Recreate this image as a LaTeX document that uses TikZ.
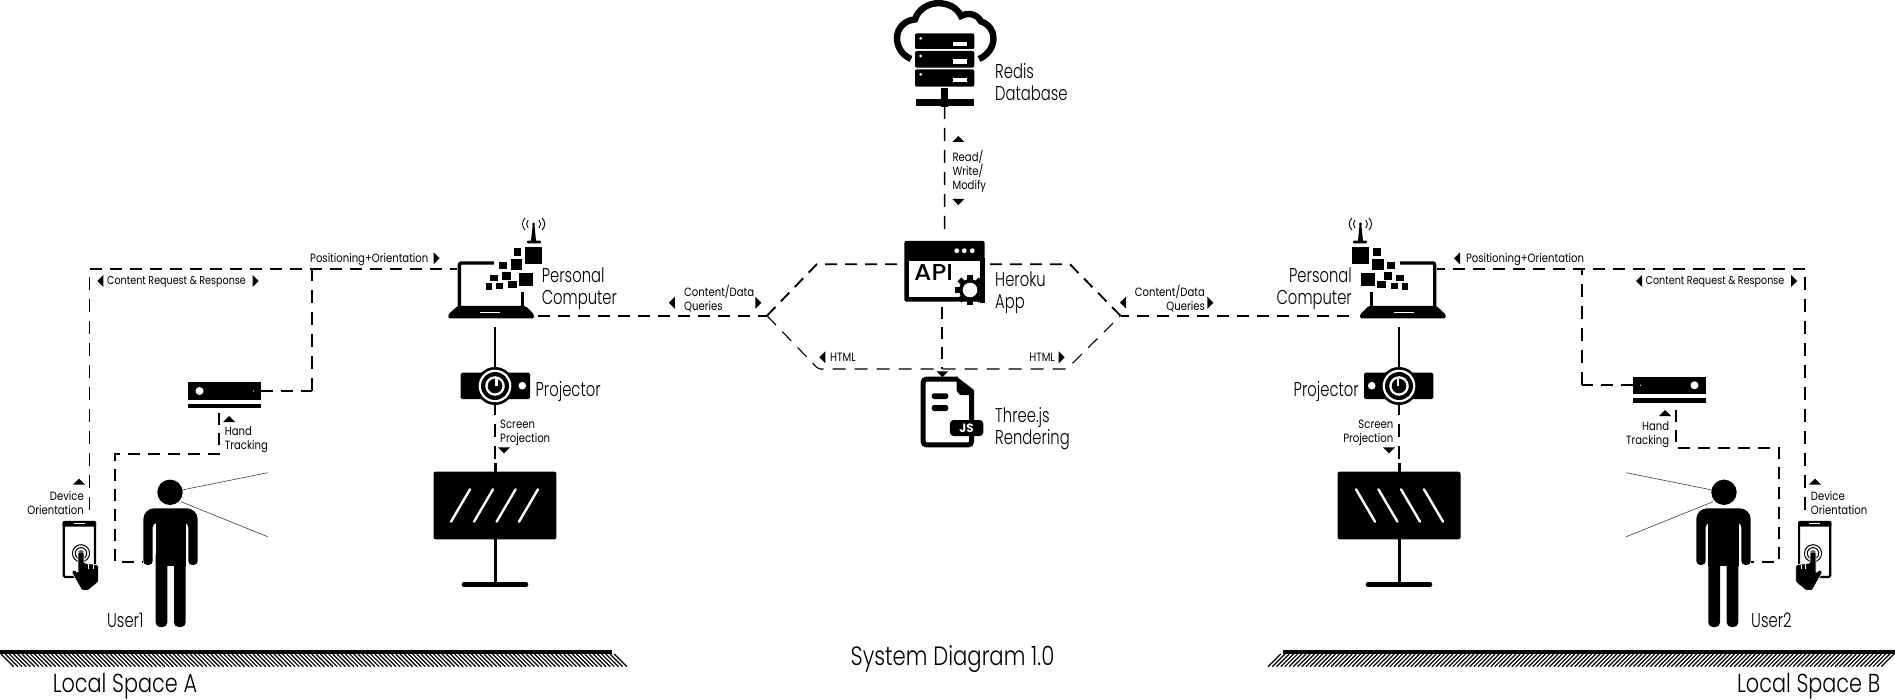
\documentclass[tikz,border=0pt]{standalone}
\usepackage{fontspec}
\setmainfont{Poppins Light}[FakeStretch=0.74]
\newfontfamily\smallfont{Poppins}[FakeStretch=0.84]
\newfontfamily\spacefont{Poppins Light}[FakeStretch=0.8]
\newfontfamily\apifont{Poppins Medium}[FakeStretch=1.08]
\usetikzlibrary{shapes.geometric}

% Icons are drawn at their place on the left, the right copies are mirrored
\tikzset{
    laptop/.pic={
        \draw[line width=3.4pt, rounded corners=2pt] (494,263) -- (459.3,263) -- (459.3,308);
        \draw[line width=3.4pt] (522.7,291.7) -- (522.7,308);
        \fill[rounded corners=1.5pt] (457.5,306) -- (448.3,314.5) -- (448.3,318.5) -- (534,318.5) -- (534,314.5) -- (525.5,306) -- cycle;
        \fill[white] (480,311.7) rectangle (500,313.3);
        \foreach \xa/\ya/\xb/\yb in {525.3/246.7/541.7/264, 513.5/248.3/521/256, 510.5/259/522/270, 498.7/262.3/507.2/269, 502/271.7/510.5/280, 519/272.7/532.8/286, 490.3/275/498/281, 508.4/281/516.8/288.3, 495.8/282.7/503/289.3, 486/283.3/492.4/290}
            \fill (\xa,\ya) rectangle (\xb,\yb);
        % antenna
        \fill (532.8,224) -- (534.4,224) -- (536,241) -- (531,241) -- cycle;
        \fill[rounded corners=1pt] (527,240.7) rectangle (541,243.3);
        \fill (533.6,224) circle (1.6);
        \foreach \sx in {-1,1} {
            \draw[line width=0.9pt] (533.6+\sx*8.5,218) .. controls (533.6+\sx*12,222) and (533.6+\sx*12,226) .. (533.6+\sx*8.5,230);
            \draw[line width=0.9pt] (533.6+\sx*5.5,220) .. controls (533.6+\sx*7.5,222.5) and (533.6+\sx*7.5,225.5) .. (533.6+\sx*5.5,228);
        }
    },
    projector/.pic={
        \fill[rounded corners=1.5pt] (460.7,372.7) rectangle (530,399);
        \fill (495,386) circle (19);
        \fill[white] (495,386) circle (16.3);
        \fill (495,386) circle (14);
        \fill[white] (495,386) circle (9.8);
        \fill (495,386) circle (7.3);
        \fill[white] (495,386) -- (495,379) -- (497.5,379) -- (497.5,386) -- cycle;
        \fill[white] (522.3,385.7) circle (3.8);
    },
    wallscreen/.pic={
        \fill[rounded corners=2pt] (433.5,471.7) rectangle (556.4,539.3);
        \foreach \sx in {451,474,496.6,519}
            \draw[white, line width=2.4pt, line cap=round] (\sx,521.7) -- (\sx+19,489.3);
        \draw[line width=3pt] (495,463) -- (495,472);
        \draw[line width=3pt] (495,539) -- (495,584);
        \draw[line width=4.6pt, line cap=round] (464,584.5) -- (526,584.5);
    },
    sensor/.pic={
        \fill (188,382.3) rectangle (261,400);
        \fill[white] (199.5,391) circle (4);
        \fill[white] (253.5,391) circle (0.6);
        \fill (188,404) rectangle (261,408.3);
    },
    phone/.pic={
        \draw[line width=2.2pt, fill=white, rounded corners=1.5pt] (63.8,522) rectangle (94.9,577);
        \fill[rounded corners=1pt] (62.7,521) rectangle (96,526.7);
        \fill[white] (74,523) rectangle (85,523.9);
        \draw[line width=1pt] (81,553.3) circle (8.6) circle (5.7);
        \fill (81,553.3) circle (3);
        \fill[draw=white, line width=0.6pt, rounded corners=1.2pt] (78,552) -- (84,552) -- (84,563) -- (98.3,565) -- (98.3,582) -- (88,590.5) -- (82,590.5) -- (71.5,572) -- (74,569.5) -- (78,573) -- cycle;
        \draw[white, line width=0.7pt] (88.3,564) -- (88.3,569) (93,564.5) -- (93,569);
    },
    person/.pic={
        \fill (170,492.3) circle (12.7);
        \fill[rounded corners=4pt] (143.3,565) [rounded corners=11pt] -- (143.3,508.3) -- (197.7,508.3) [rounded corners=4pt] -- (197.7,565) -- (188.3,565) -- (188.3,523) -- (152.7,523) -- (152.7,565) -- cycle;
        \fill (155.5,515) rectangle (185.7,566);
        \fill[rounded corners=4.5pt] (155.7,550) rectangle (167.3,627);
        \fill[rounded corners=4.5pt] (174,550) rectangle (185.7,627);
        \draw[line width=0.6pt, black!75] (182,490) -- (267.7,472.7);
        \draw[line width=0.6pt, black!75] (181,501.7) -- (267.7,536.7);
    },
    ground/.pic={
        \fill (0,650) rectangle (612,654.3);
        \foreach \hn in {0,...,146}
            \draw[line width=1.2pt] (1+\hn*4.2,654) -- (13.7+\hn*4.2,666.7);
    }
}

\begin{document}
\begin{tikzpicture}[
    x=1pt, y=-1pt,
    iconbox/.style={inner sep=0pt, outer sep=0pt},
    link/.style={line width=1.9pt, dash pattern=on 12pt off 8pt},
    thinlink/.style={line width=1.1pt, dash pattern=on 13pt off 9pt},
    wire/.style={line width=2.4pt},
    biglabel/.style={inner sep=0pt, align=left, font=\fontsize{20}{22}\selectfont},
    bigright/.style={inner sep=0pt, align=right, font=\fontsize{20}{22}\selectfont},
    smalllabel/.style={inner sep=0pt, align=left, font=\smallfont\fontsize{12}{14}\selectfont},
    smallright/.style={inner sep=0pt, align=right, font=\smallfont\fontsize{12}{14}\selectfont},
    spacelabel/.style={inner sep=0pt, font=\spacefont\fontsize{26}{28}\selectfont},
    tick/.style={fill=black, isosceles triangle, isosceles triangle apex angle=90, inner sep=2pt},
    tickup/.style={tick, shape border rotate=90},
    tickdown/.style={tick, shape border rotate=-90},
    tickleft/.style={tick, shape border rotate=180},
    tickright/.style={tick, shape border rotate=0}
]
    \useasboundingbox (0,0) rectangle (1895,700);

    % Icons, left side
    \pic at (0,0) {ground};
    \pic at (0,0) {laptop};
    \pic at (0,0) {projector};
    \pic at (0,0) {wallscreen};
    \pic at (0,0) {sensor};
    \pic at (0,0) {person};
    \pic at (0,0) {phone};

    % Icons, right side
    \pic[xscale=-1] at (1895,0) {ground};
    \pic[xscale=-1] at (1894,0) {laptop};
    \pic[xscale=-1] at (1894,0) {projector};
    \pic[xscale=-1] at (1894,0) {wallscreen};
    \pic[xscale=-1] at (1894,-5.7) {sensor};
    \pic[xscale=-1] at (1894,0) {person};
    \pic[xscale=-1] at (1894,0) {phone};

    % Redis database
    \draw[line width=6.4pt] (911,59) .. controls (902,55) and (897,47) .. (897,38) .. controls (897,28) and (905,20) .. (915,19.5) .. controls (918,9) and (929,3.2) .. (938,3.2) .. controls (949,3.2) and (957,8) .. (961,16) .. controls (968,12) and (977,14) .. (981,21.5) .. controls (989,24) and (993.5,31) .. (993.5,38) .. controls (993.5,47) and (988,55) .. (979,59);
    \foreach \ry/\rh in {33.3/16,51/16.7,69.3/17.4} {
        \fill[white] (912,\ry-1.7) rectangle (977,\ry+\rh+1);
        \fill[rounded corners=2pt] (915,\ry) rectangle (974.3,\ry+\rh);
        \fill[white] (920.7,\ry+5) circle (1.5);
        \fill[white] (952.7,\ry+8.4) rectangle (966.7,\ry+12.7);
    }
    \fill (941,88.3) rectangle (948.3,107.3);
    \fill (915.7,99) rectangle (973.7,106);

    % Heroku window
    \fill[rounded corners=2pt] (904.3,241) rectangle (984.7,301.7);
    \fill[white] (909,260.7) rectangle (980,297.3);
    \foreach \dx in {956.7,964.3,972.3}
        \fill[white] (\dx,250.7) circle (2.4);
    \node[inner sep=0pt, anchor=west, font=\apifont\fontsize{23}{23}\selectfont] (apitext) at (914,272.5) {API};
    \foreach \ga in {0,45,...,315}
        \fill[rotate around={\ga:(970,290)}] (967.2,275) rectangle (972.8,282);
    \fill (970,290) circle (11);
    \fill[white] (970,290) circle (7.3);
    \fill[white] (980,272) rectangle (984.7,280);
    \fill (980,258) rectangle (984.7,303);

    % Three.js file
    \draw[line width=5pt, rounded corners=3pt] (958,379.2) -- (923.2,379.2) -- (923.2,444.8) -- (971.5,444.8) -- (971.5,393);
    \fill[rounded corners=1pt] (956.7,376.7) -- (974,390) -- (974,395) -- (960,395) -- (956.7,391) -- cycle;
    \fill[rounded corners=2.5pt] (931.7,393.3) rectangle (948.3,399);
    \fill[rounded corners=2.5pt] (931.7,405) rectangle (948.3,411);
    \node[fill=black, text=white, rounded corners=3.5pt, inner sep=0pt, minimum width=33.3pt, minimum height=16pt, font=\fontspec{Poppins}\fontsize{12}{12}\selectfont\bfseries] (jsbadge) at (966.6,428) {JS};

    % Boxes for the connectors
    \node[iconbox, minimum width=76pt, minimum height=96pt] (pc1) at (495,271) {};
    \node[iconbox, minimum width=70pt, minimum height=34pt] (proj1) at (495,385) {};
    \node[iconbox, minimum width=123pt, minimum height=76pt] (screen1) at (495,501) {};
    \node[iconbox, minimum width=73pt, minimum height=18pt] (sensor1) at (224.5,391) {};
    \node[iconbox, minimum width=55pt, minimum height=147pt] (user1) at (170.5,553.5) {};
    \node[iconbox, minimum width=33pt, minimum height=69pt] (phone1) at (79.5,555.5) {};
    \node[iconbox, minimum width=76pt, minimum height=96pt] (pc2) at (1399,271) {};
    \node[iconbox, minimum width=70pt, minimum height=34pt] (proj2) at (1399,385) {};
    \node[iconbox, minimum width=123pt, minimum height=76pt] (screen2) at (1399,501) {};
    \node[iconbox, minimum width=73pt, minimum height=18pt] (sensor2) at (1669.5,385.3) {};
    \node[iconbox, minimum width=55pt, minimum height=147pt] (user2) at (1723.5,553.5) {};
    \node[iconbox, minimum width=33pt, minimum height=69pt] (phone2) at (1814.5,555.5) {};
    \node[iconbox, minimum width=59pt, minimum height=106pt] (db) at (944.7,53) {};
    \node[iconbox, minimum width=80.4pt, minimum height=60.7pt] (api) at (944.5,271.3) {};

    % Bends
    \coordinate (a1) at (89.5,269);
    \coordinate (a2) at (312,269);
    \coordinate (b1) at (219,454);
    \coordinate (b2) at (115,454);
    \coordinate (b3) at (115,561.7);
    \coordinate (c1) at (1805,269);
    \coordinate (c2) at (1582,269);
    \coordinate (d1) at (1675.6,447.7);
    \coordinate (d2) at (1779,447.7);
    \coordinate (d3) at (1779,561.7);
    \coordinate (j1) at (767,315.7);
    \coordinate (j2) at (1120.5,315.7);
    \coordinate (u1) at (816.7,264.3);
    \coordinate (u2) at (1070,264.3);
    \coordinate (l1) at (818.3,369);
    \coordinate (l2) at (1066.7,369);
    \coordinate (t1) at (941.7,369);

    % Connectors, left side
    \draw[thinlink, shorten <=11pt] (phone1.north -| a1) -- (a1);
    \draw[link] (a1) -- (a1 -| pc1.west);
    \draw[link] (sensor1.east) -- (sensor1.east -| a2);
    \draw[thinlink] (sensor1.east -| a2) -- (a2);
    \draw[link, shorten <=13pt] (sensor1.south -| b1) -- (b1) -- (b2) -- (b3) -- (b3 -| user1.west);
    \draw[link, shorten <=5pt] (j1 -| pc1.east) -- (j1);
    \draw[wire, shorten <=8pt] (pc1.south) -- (proj1.north);
    \draw[thinlink, line width=1.5pt] (proj1.south) -- (screen1.north);

    % Connectors, right side
    \draw[thinlink, shorten <=11pt] (phone2.north -| c1) -- (c1);
    \draw[link] (c1) -- (c1 -| pc2.east);
    \draw[link] (sensor2.west) -- (sensor2.west -| c2);
    \draw[thinlink] (sensor2.west -| c2) -- (c2);
    \draw[link, shorten <=16pt] (sensor2.south -| d1) -- (d1) -- (d2) -- (d3) -- (d3 -| user2.east);
    \draw[link, shorten <=12pt] (j2 -| pc2.west) -- (j2);
    \draw[wire, shorten <=8pt] (pc2.south) -- (proj2.north);
    \draw[thinlink, line width=1.5pt] (proj2.south) -- (screen2.north);

    % Connectors, middle
    \draw[thinlink, line width=1.5pt, shorten >=6pt] (db.south) -- (api.north);
    \draw[link, shorten <=5pt] (api.south -| t1) -- (t1);
    \draw[link] (j1) -- (u1) -- (u1 -| api.west);
    \draw[link] (j2) -- (u2) -- (u2 -| api.east);
    \draw[thinlink, rounded corners=2pt] (j1) -- (l1) -- (l2) -- (j2);

    % Labels
    \node[biglabel, anchor=west] (pcname1) at (541.6,288.5) {Personal\\Computer};
    \node[biglabel, anchor=west] (projname1) at (535.4,391.5) {Projector};
    \node[bigright, anchor=east] (pcname2) at (1352,288.5) {Personal\\Computer};
    \node[bigright, anchor=east] (projname2) at (1359,391.5) {Projector};
    \node[biglabel, anchor=west] (dbname) at (995,82) {Redis\\Database};
    \node[biglabel, anchor=west] (apiname) at (995,292.5) {Heroku\\App};
    \node[biglabel, anchor=west] (threename) at (995,429) {Three.js\\Rendering};
    \node[biglabel, anchor=west] (username1) at (107,620) {User1};
    \node[biglabel, anchor=west] (username2) at (1751,620) {User2};
    \node[spacelabel, anchor=west] (space1) at (52.6,686) {Local Space A};
    \node[spacelabel, anchor=east] (space2) at (1880.5,686) {Local Space B};
    \node[spacelabel, font=\spacefont\fontsize{26.5}{28}\selectfont] (title) at (952.5,659) {System Diagram 1.0};

    \node[smalllabel, anchor=west] (posname1) at (310,260) {Positioning+Orientation};
    \node[smalllabel, anchor=west] (posname2) at (1465.8,260) {Positioning+Orientation};
    \node[smalllabel, anchor=west, font=\smallfont\fontsize{11.4}{14}\selectfont] (reqname1) at (107,282) {Content Request \& Response};
    \node[smalllabel, anchor=west, font=\smallfont\fontsize{11.4}{14}\selectfont] (reqname2) at (1645.5,282) {Content Request \& Response};
    \node[smalllabel, anchor=west] (handname1) at (224.7,440) {Hand\\Tracking};
    \node[smallright, anchor=east] (handname2) at (1669.4,434.5) {Hand\\Tracking};
    \node[smallright, anchor=east] (devname1) at (84,503) {Device\\Orientation};
    \node[smalllabel, anchor=west] (devname2) at (1810.7,503) {Device\\Orientation};
    \node[smalllabel, anchor=west] (scrname1) at (500,433) {Screen\\Projection};
    \node[smallright, anchor=east] (scrname2) at (1393.4,433) {Screen\\Projection};
    \node[smalllabel, anchor=west] (rwname) at (952.4,171) {Read/\\Write/\\Modify};
    \node[smalllabel, anchor=west] (cdname1) at (684,299) {Content/Data\\Queries};
    \node[smallright, anchor=east] (cdname2) at (1205,299) {Content/Data\\Queries};
    \node[smalllabel, anchor=west] (htmlname1) at (830,357.5) {HTML};
    \node[smallright, anchor=east] (htmlname2) at (1055,357.5) {HTML};

    % Small direction marks
    \node[tickright] (m1) at (435.6,258.3) {};
    \node[tickleft] (m2) at (1458,258.3) {};
    \node[tickleft] (m3) at (101.4,281) {};
    \node[tickright] (m4) at (254.6,281) {};
    \node[tickleft] (m5) at (1640,281) {};
    \node[tickright] (m6) at (1793,281) {};
    \node[tickup] (m7) at (229,420) {};
    \node[tickup] (m8) at (1665,414) {};
    \node[tickup] (m9) at (79,482.7) {};
    \node[tickup] (m10) at (1815,482.7) {};
    \node[tickdown] (m11) at (504,449.3) {};
    \node[tickdown] (m12) at (1389,449.3) {};
    \node[tickup] (m13) at (958.3,140) {};
    \node[tickdown] (m14) at (958.3,201) {};
    \node[tickdown] (m15) at (942.3,373.3) {};
    \node[tickleft] (m16) at (672.8,302.7) {};
    \node[tickright] (m17) at (757.4,302.7) {};
    \node[tickleft] (m18) at (1124,302.7) {};
    \node[tickright] (m19) at (1209.4,302.7) {};
    \node[tickleft] (m20) at (823.3,357.3) {};
    \node[tickright] (m21) at (1060.7,357.3) {};
\end{tikzpicture}
\end{document}
